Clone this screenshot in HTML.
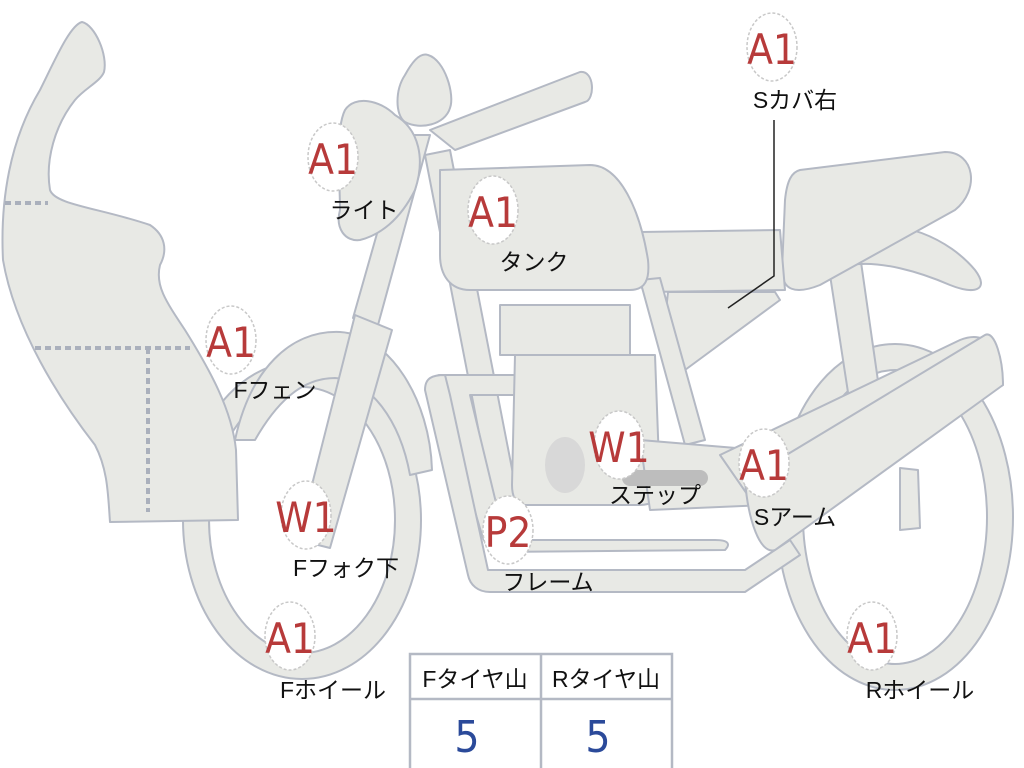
<!DOCTYPE html>
<html><head><meta charset="utf-8"><style>
html,body{margin:0;padding:0;background:#fff;}
svg{display:block;}
.p{fill:#e8e9e5;stroke:#b4b9c4;stroke-width:2;stroke-linejoin:round;}
.c{fill:#fff;stroke:#c8c8c8;stroke-width:1.5;stroke-dasharray:3 2;}
.r{font-family:"DejaVu Sans Condensed","Liberation Sans Narrow","Liberation Sans",sans-serif;fill:#b73a3a;font-size:42px;text-anchor:middle;}
.l{font-family:"Liberation Sans","Noto Sans CJK JP",sans-serif;fill:#111;font-size:23px;text-anchor:middle;}
</style></head><body>
<svg width="1024" height="768" viewBox="0 0 1024 768" xmlns="http://www.w3.org/2000/svg">
<ellipse cx="895" cy="517" rx="105" ry="160" fill="none" stroke="#b4b9c4" stroke-width="28"/>
<ellipse cx="895" cy="517" rx="105" ry="160" fill="none" stroke="#e8e9e5" stroke-width="24"/>
<ellipse cx="302" cy="520" rx="106" ry="146" fill="none" stroke="#b4b9c4" stroke-width="28"/>
<ellipse cx="302" cy="520" rx="106" ry="146" fill="none" stroke="#e8e9e5" stroke-width="24"/>
<path class="p" d="M828 262 L860 255 L885 430 L855 438 Z"/>
<path class="p" d="M850 230 C900 215 950 240 975 270 C990 290 975 295 950 285 C920 272 880 260 850 265 Z"/>
<path class="p" d="M800 170 L945 152 C975 152 980 190 955 210 L820 285 C795 295 782 290 782 270 L785 200 C787 180 792 172 800 170 Z"/>
<path class="p" d="M640 232 L780 230 L785 290 L645 292 C638 290 636 240 640 232 Z"/>
<path class="p" d="M668 292 L775 292 L780 300 L685 370 C670 360 664 320 668 292 Z"/>
<path class="p" d="M430 130 L580 72 C595 70 595 100 585 102 L455 150 Z"/>
<path class="p" d="M425 155 L450 150 L520 510 L495 515 Z"/>
<path class="p" d="M640 280 L660 278 L705 440 L685 445 Z"/>
<path class="p" d="M440 375 L520 375 L520 395 L470 395 L505 540 L715 540 C730 540 730 545 725 550 L500 552 C490 552 485 545 482 535 L440 395 C435 385 432 375 440 375 Z"/>
<path class="p" d="M425 390 C425 378 432 375 445 375 L450 395 L488 570 L745 570 L790 540 L800 555 L745 592 L490 592 C478 592 470 585 468 575 Z"/>
<path class="p" d="M500 305 L630 305 L630 355 L500 355 Z"/>
<path class="p" d="M515 355 L655 355 L660 490 C660 500 650 505 640 505 L525 505 C515 505 512 495 512 485 Z"/>
<ellipse cx="565" cy="465" rx="20" ry="28" fill="#d8d8d8"/>
<path class="p" d="M640 440 L760 450 L765 505 L650 510 Z"/>
<path d="M630 478 L700 478" stroke="#bdbdbd" stroke-width="16" stroke-linecap="round"/>
<path class="p" d="M720 455 L960 340 C985 330 1000 345 1003 385 L765 520 Z"/>
<path class="p" d="M745 480 L985 335 C995 330 1003 360 1003 385 L775 550 C760 555 748 520 745 480 Z"/>
<path class="p" d="M900 468 L918 470 L920 528 L900 530 Z"/>
<path class="p" d="M440 170 L590 165 C620 165 640 210 648 260 C650 280 645 290 630 290 L470 290 C450 290 440 275 440 255 Z"/>
<path class="p" d="M235 440 C250 370 290 330 340 332 C390 335 430 400 432 470 L410 475 C400 420 370 380 335 378 C300 378 275 405 255 440 Z"/>
<path class="p" d="M405 135 L430 135 L378 325 L353 318 Z"/>
<path class="p" d="M355 315 L392 330 L330 548 L298 540 Z"/>
<path class="p" d="M345 110 C355 95 380 100 395 115 C420 130 425 160 415 190 C400 220 380 235 360 240 C345 242 335 228 340 210 C340 180 335 130 345 110 Z"/>
<path class="p" d="M428 55 C445 60 455 95 450 108 C445 125 420 130 405 122 C395 115 395 90 405 75 C412 62 420 52 428 55 Z"/>
<path class="p" d="M82 22 C95 25 108 55 104 72 C100 82 85 88 75 100 C55 125 45 160 50 190 C55 205 100 208 150 225 C165 235 168 250 160 265 C155 285 165 300 185 330 C210 370 232 410 236 450 L238 520 L110 522 C108 495 108 470 95 445 C60 400 15 330 3 260 C0 200 10 140 40 90 C55 60 70 25 82 22 Z"/>
<path d="M5 203 L48 203 M35 348 L190 348 M148 348 L148 512" stroke="#aab0bc" stroke-width="4" stroke-dasharray="6 4" fill="none"/>
<path d="M774 120 L774 276 L728 308" stroke="#222" stroke-width="1.5" fill="none"/>
<g>
<ellipse class="c" cx="772" cy="47" rx="25" ry="34"/><text class="r" x="772" y="64">A1</text><text class="l" x="795" y="108">Sカバ右</text>
<ellipse class="c" cx="333" cy="157" rx="25" ry="34"/><text class="r" x="333" y="174">A1</text><text class="l" x="364" y="218">ライト</text>
<ellipse class="c" cx="493" cy="210" rx="25" ry="34"/><text class="r" x="493" y="227">A1</text><text class="l" x="534" y="270">タンク</text>
<ellipse class="c" cx="231" cy="340" rx="25" ry="34"/><text class="r" x="231" y="357">A1</text><text class="l" x="275" y="398">Fフェン</text>
<ellipse class="c" cx="619" cy="445" rx="25" ry="34"/><text class="r" x="619" y="462">W1</text><text class="l" x="655" y="503">ステップ</text>
<ellipse class="c" cx="764" cy="463" rx="25" ry="34"/><text class="r" x="764" y="480">A1</text><text class="l" x="795" y="525">Sアーム</text>
<ellipse class="c" cx="306" cy="515" rx="25" ry="34"/><text class="r" x="306" y="532">W1</text><text class="l" x="346" y="576">Fフォク下</text>
<ellipse class="c" cx="508" cy="530" rx="25" ry="34"/><text class="r" x="508" y="547">P2</text><text class="l" x="548" y="590">フレーム</text>
<ellipse class="c" cx="290" cy="636" rx="25" ry="34"/><text class="r" x="290" y="653">A1</text><text class="l" x="333" y="698">Fホイール</text>
<ellipse class="c" cx="872" cy="636" rx="25" ry="34"/><text class="r" x="872" y="653">A1</text><text class="l" x="920" y="698">Rホイール</text>
</g>
<rect x="410" y="654" width="262" height="116" fill="#fff" stroke="#b4b9c4" stroke-width="2.5"/>
<path d="M410 699 L672 699 M541 654 L541 768" stroke="#b4b9c4" stroke-width="2.5"/>
<text class="l" x="475" y="687">Fタイヤ山</text>
<text class="l" x="606" y="687">Rタイヤ山</text>
<text x="467" y="752" font-family="DejaVu Sans Condensed,Liberation Sans,sans-serif" font-size="44" fill="#2b4a9a" text-anchor="middle">5</text>
<text x="598" y="752" font-family="DejaVu Sans Condensed,Liberation Sans,sans-serif" font-size="44" fill="#2b4a9a" text-anchor="middle">5</text>
</svg>
</body></html>
